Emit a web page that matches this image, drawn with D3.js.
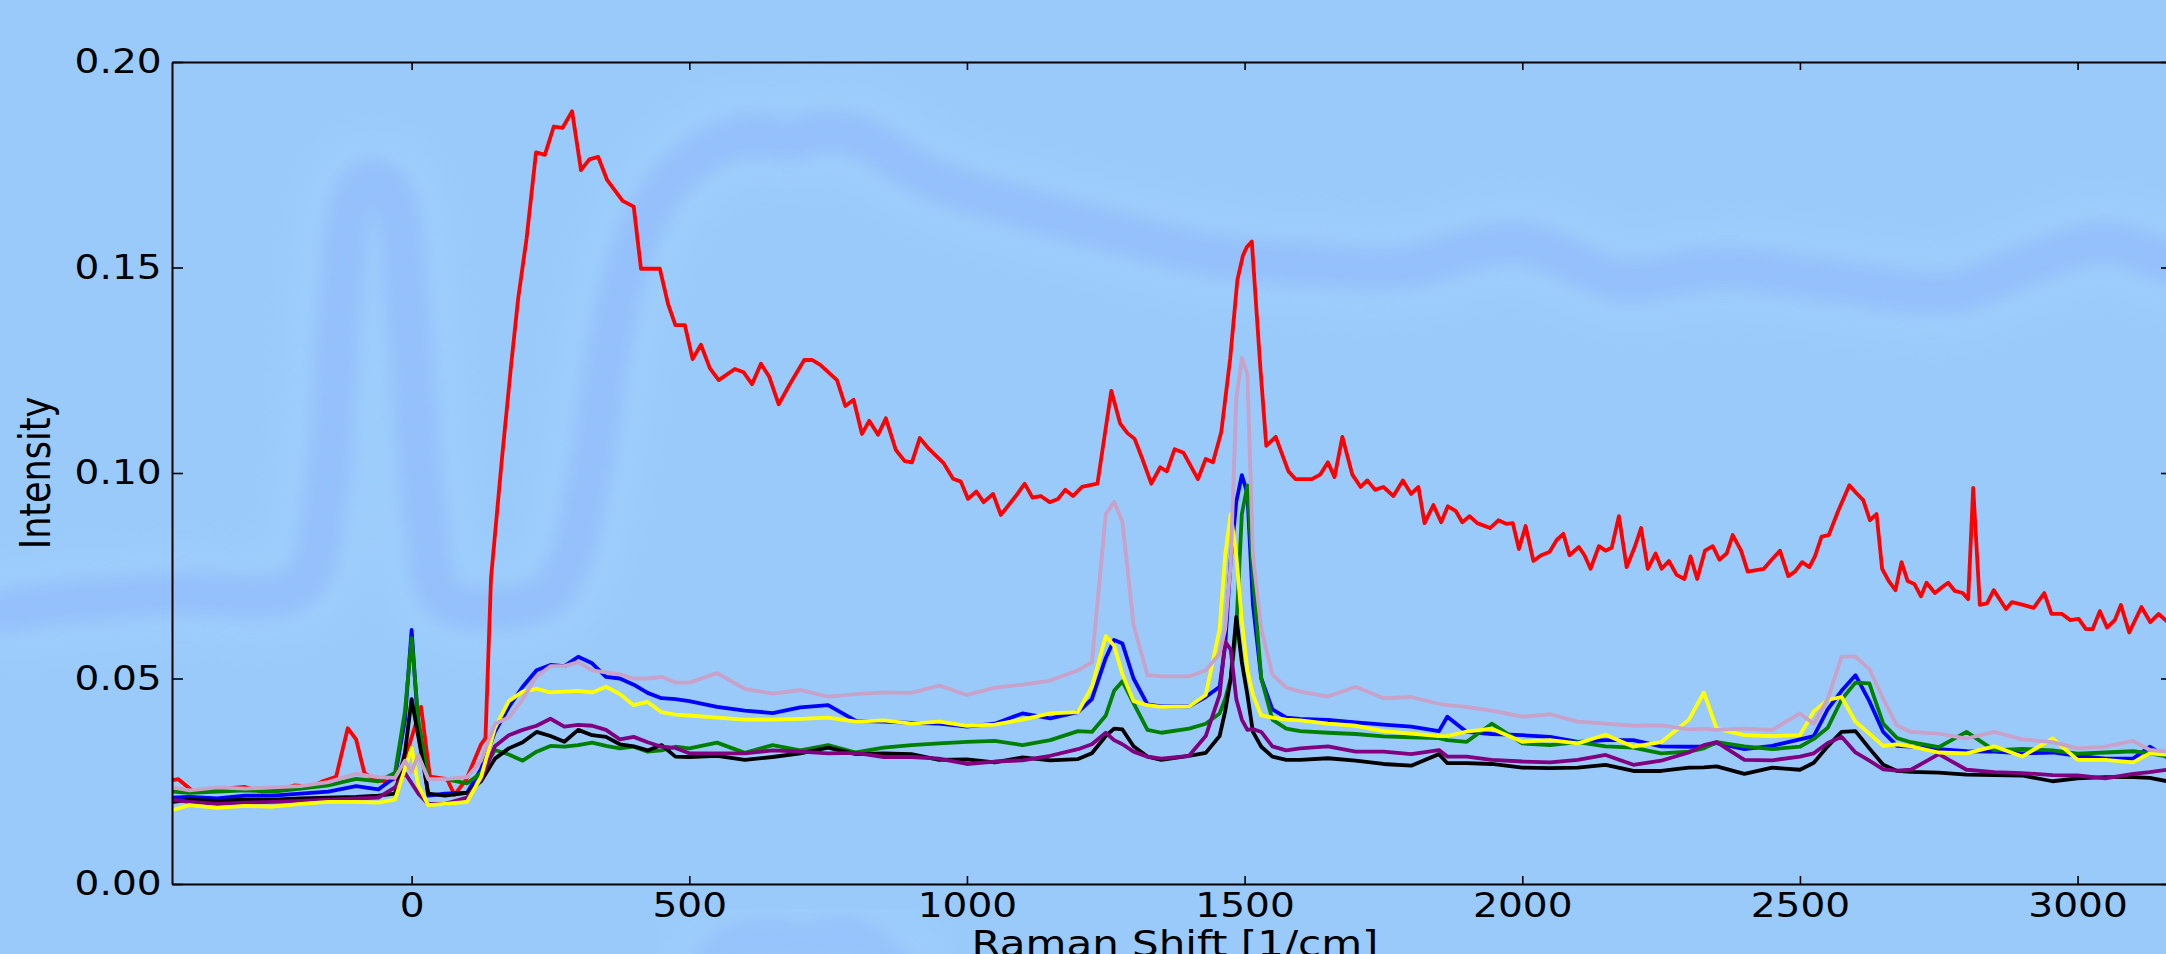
<!DOCTYPE html>
<html>
<head>
<meta charset="utf-8">
<script src="https://cdn.jsdelivr.net/npm/d3@7"></script>
<style>
  body { margin: 0; background: #9acafa; }
  svg { display: block; }
</style>
</head>
<body>
<svg id="chart" width="2166" height="954"></svg>
<script>
// shared wavenumber grid for the six low spectra
const waveX = [-430, -400, -350, -300, -250, -200, -150, -100, -60, -30,
  -12, 0, 12, 30, 60, 100, 125, 150, 175, 200,
  225, 250, 275, 300, 325, 350, 375, 400, 425, 450,
  475, 500, 550, 600, 650, 700, 750, 800, 850, 900,
  950, 1000, 1050, 1100, 1150, 1200, 1225, 1250, 1265, 1280,
  1300, 1325, 1350, 1400, 1430, 1455, 1465, 1475, 1485, 1495,
  1505, 1515, 1530, 1550, 1575, 1600, 1650, 1700, 1750, 1800,
  1850, 1865, 1900, 1945, 2000, 2050, 2100, 2150, 2200, 2250,
  2300, 2327, 2350, 2400, 2450, 2500, 2525, 2550, 2575, 2600,
  2625, 2650, 2675, 2700, 2750, 2800, 2850, 2900, 2955, 3000,
  3050, 3100, 3130, 3165];

const blueY = [0.0210, 0.0212, 0.0208, 0.0215, 0.0215, 0.0220, 0.0225, 0.0238, 0.0230, 0.0260,
  0.0400, 0.0618, 0.0380, 0.0215, 0.0220, 0.0222, 0.0280, 0.0370, 0.0430, 0.0480,
  0.0520, 0.0533, 0.0530, 0.0553, 0.0537, 0.0504, 0.0500, 0.0485, 0.0465, 0.0452,
  0.0450, 0.0445, 0.0431, 0.0422, 0.0416, 0.0430, 0.0435, 0.0397, 0.0395, 0.0392,
  0.0390, 0.0383, 0.0390, 0.0415, 0.0403, 0.0418, 0.0450, 0.0550, 0.0594, 0.0585,
  0.0500, 0.0437, 0.0432, 0.0432, 0.0455, 0.0480, 0.0580, 0.0790, 0.0930, 0.0995,
  0.0950, 0.0680, 0.0500, 0.0425, 0.0405, 0.0402, 0.0399, 0.0393, 0.0388, 0.0383,
  0.0372, 0.0407, 0.0370, 0.0365, 0.0362, 0.0358, 0.0346, 0.0350, 0.0350, 0.0335,
  0.0334, 0.0335, 0.0343, 0.0328, 0.0336, 0.0352, 0.0360, 0.0425, 0.0470, 0.0508,
  0.0445, 0.0370, 0.0336, 0.0334, 0.0328, 0.0323, 0.0322, 0.0318, 0.0320, 0.0312,
  0.0305, 0.0305, 0.0334, 0.0305];

const greenY = [0.0225, 0.0222, 0.0225, 0.0228, 0.0225, 0.0232, 0.0240, 0.0256, 0.0250, 0.0270,
  0.0420, 0.0598, 0.0400, 0.0255, 0.0255, 0.0245, 0.0270, 0.0326, 0.0315, 0.0300,
  0.0322, 0.0336, 0.0334, 0.0338, 0.0344, 0.0336, 0.0330, 0.0334, 0.0322, 0.0325,
  0.0334, 0.0330, 0.0344, 0.0319, 0.0338, 0.0325, 0.0338, 0.0320, 0.0332, 0.0338,
  0.0342, 0.0346, 0.0348, 0.0338, 0.0350, 0.0372, 0.0370, 0.0410, 0.0470, 0.0493,
  0.0440, 0.0375, 0.0368, 0.0378, 0.0390, 0.0415, 0.0450, 0.0500, 0.0620, 0.0900,
  0.0970, 0.0750, 0.0500, 0.0400, 0.0378, 0.0372, 0.0368, 0.0365, 0.0359, 0.0357,
  0.0355, 0.0350, 0.0346, 0.0390, 0.0342, 0.0338, 0.0345, 0.0335, 0.0332, 0.0318,
  0.0322, 0.0330, 0.0345, 0.0335, 0.0328, 0.0334, 0.0353, 0.0380, 0.0449, 0.0490,
  0.0488, 0.0390, 0.0355, 0.0345, 0.0333, 0.0370, 0.0325, 0.0329, 0.0325, 0.0317,
  0.0320, 0.0323, 0.0318, 0.0309];

const blackY = [0.0200, 0.0205, 0.0202, 0.0205, 0.0205, 0.0208, 0.0210, 0.0212, 0.0215, 0.0220,
  0.0320, 0.0450, 0.0360, 0.0220, 0.0215, 0.0222, 0.0250, 0.0305, 0.0330, 0.0345,
  0.0370, 0.0360, 0.0346, 0.0375, 0.0362, 0.0358, 0.0340, 0.0335, 0.0325, 0.0338,
  0.0310, 0.0309, 0.0312, 0.0302, 0.0309, 0.0318, 0.0332, 0.0316, 0.0318, 0.0316,
  0.0302, 0.0303, 0.0296, 0.0308, 0.0301, 0.0304, 0.0318, 0.0360, 0.0378, 0.0376,
  0.0335, 0.0310, 0.0302, 0.0312, 0.0319, 0.0360, 0.0420, 0.0500, 0.0650, 0.0540,
  0.0460, 0.0370, 0.0334, 0.0310, 0.0302, 0.0302, 0.0306, 0.0300, 0.0292, 0.0288,
  0.0316, 0.0294, 0.0294, 0.0292, 0.0283, 0.0282, 0.0283, 0.0290, 0.0275, 0.0275,
  0.0283, 0.0284, 0.0286, 0.0268, 0.0283, 0.0278, 0.0295, 0.0335, 0.0370, 0.0372,
  0.0330, 0.0290, 0.0275, 0.0273, 0.0271, 0.0266, 0.0265, 0.0264, 0.0250, 0.0257,
  0.0260, 0.0260, 0.0258, 0.0249];

const purpleY = [0.0205, 0.0200, 0.0195, 0.0198, 0.0200, 0.0202, 0.0205, 0.0208, 0.0210, 0.0235,
  0.0270, 0.0245, 0.0220, 0.0195, 0.0195, 0.0210, 0.0255, 0.0335, 0.0362, 0.0375,
  0.0385, 0.0402, 0.0383, 0.0387, 0.0385, 0.0375, 0.0352, 0.0358, 0.0345, 0.0334,
  0.0331, 0.0318, 0.0318, 0.0318, 0.0325, 0.0322, 0.0318, 0.0319, 0.0309, 0.0309,
  0.0305, 0.0292, 0.0298, 0.0301, 0.0312, 0.0328, 0.0340, 0.0368, 0.0350, 0.0340,
  0.0322, 0.0310, 0.0305, 0.0312, 0.0360, 0.0460, 0.0590, 0.0570, 0.0450, 0.0400,
  0.0375, 0.0377, 0.0370, 0.0335, 0.0325, 0.0330, 0.0335, 0.0322, 0.0322, 0.0316,
  0.0326, 0.0310, 0.0310, 0.0302, 0.0298, 0.0296, 0.0302, 0.0314, 0.0290, 0.0300,
  0.0320, 0.0338, 0.0345, 0.0302, 0.0301, 0.0310, 0.0318, 0.0343, 0.0358, 0.0320,
  0.0300, 0.0279, 0.0276, 0.0278, 0.0316, 0.0278, 0.0272, 0.0270, 0.0265, 0.0264,
  0.0257, 0.0268, 0.0272, 0.0279];

const yellowY = [0.0180, 0.0192, 0.0185, 0.0190, 0.0188, 0.0195, 0.0200, 0.0200, 0.0198, 0.0205,
  0.0280, 0.0331, 0.0240, 0.0192, 0.0195, 0.0200, 0.0260, 0.0380, 0.0445, 0.0468,
  0.0475, 0.0466, 0.0468, 0.0470, 0.0466, 0.0480, 0.0462, 0.0435, 0.0443, 0.0418,
  0.0412, 0.0410, 0.0405, 0.0400, 0.0400, 0.0402, 0.0405, 0.0395, 0.0398, 0.0390,
  0.0395, 0.0385, 0.0388, 0.0400, 0.0415, 0.0418, 0.0480, 0.0603, 0.0580, 0.0510,
  0.0445, 0.0435, 0.0431, 0.0432, 0.0460, 0.0620, 0.0800, 0.0900, 0.0800, 0.0640,
  0.0520, 0.0460, 0.0410, 0.0405, 0.0400, 0.0398, 0.0390, 0.0385, 0.0372, 0.0366,
  0.0360, 0.0360, 0.0371, 0.0378, 0.0346, 0.0350, 0.0342, 0.0363, 0.0334, 0.0345,
  0.0400, 0.0466, 0.0378, 0.0362, 0.0360, 0.0362, 0.0420, 0.0448, 0.0455, 0.0395,
  0.0366, 0.0336, 0.0340, 0.0335, 0.0320, 0.0318, 0.0335, 0.0310, 0.0354, 0.0302,
  0.0302, 0.0296, 0.0318, 0.0314];

const pinkY = [0.0235, 0.0228, 0.0235, 0.0232, 0.0235, 0.0238, 0.0248, 0.0268, 0.0260, 0.0258,
  0.0300, 0.0273, 0.0314, 0.0255, 0.0255, 0.0260, 0.0300, 0.0390, 0.0405, 0.0450,
  0.0505, 0.0530, 0.0530, 0.0540, 0.0520, 0.0515, 0.0510, 0.0500, 0.0500, 0.0504,
  0.0490, 0.0490, 0.0513, 0.0475, 0.0463, 0.0472, 0.0456, 0.0462, 0.0466, 0.0465,
  0.0483, 0.0460, 0.0478, 0.0485, 0.0495, 0.0520, 0.0540, 0.0900, 0.0930, 0.0880,
  0.0630, 0.0508, 0.0505, 0.0505, 0.0520, 0.0560, 0.0620, 0.0780, 0.1180, 0.1280,
  0.1240, 0.0800, 0.0620, 0.0510, 0.0478, 0.0468, 0.0456, 0.0480, 0.0452, 0.0455,
  0.0438, 0.0435, 0.0431, 0.0422, 0.0407, 0.0413, 0.0395, 0.0390, 0.0385, 0.0386,
  0.0376, 0.0378, 0.0375, 0.0378, 0.0375, 0.0415, 0.0390, 0.0450, 0.0553, 0.0553,
  0.0523, 0.0450, 0.0385, 0.0370, 0.0366, 0.0354, 0.0370, 0.0352, 0.0345, 0.0330,
  0.0334, 0.0348, 0.0326, 0.0322];

// the strong red spectrum has its own sampling
const redX = [-430, -420, -395, -370, -340, -300, -270, -240, -210, -180, -160, -136, -115, -100, -85, -64, -44, -25, -3, 17,
  33, 64, 77, 98, 125, 133, 143, 163, 179, 192, 207, 224, 240, 256, 272, 289, 305, 320, 336, 352,
  380, 400, 413, 447, 462, 475, 492, 506, 521, 537, 553, 582, 598, 613, 629, 644, 661, 681, 707, 721,
  736, 766, 781, 796, 811, 824, 840, 854, 872, 888, 901, 915, 932, 958, 975, 989, 1002, 1017, 1030, 1047,
  1061, 1088, 1104, 1118, 1133, 1149, 1164, 1177, 1191, 1207, 1235, 1260, 1276, 1289, 1302, 1316, 1332, 1348, 1360, 1374,
  1390, 1416, 1430, 1443, 1458, 1474, 1487, 1497, 1504, 1513, 1528, 1539, 1556, 1579, 1592, 1607, 1621, 1636, 1650, 1662,
  1676, 1694, 1709, 1721, 1735, 1750, 1768, 1785, 1800, 1813, 1824, 1840, 1854, 1866, 1880, 1892, 1905, 1919, 1942, 1957,
  1972, 1983, 1994, 2006, 2020, 2034, 2049, 2062, 2074, 2085, 2102, 2112, 2123, 2138, 2150, 2161, 2174, 2188, 2202, 2214,
  2226, 2240, 2251, 2264, 2278, 2292, 2303, 2315, 2329, 2343, 2355, 2368, 2379, 2394, 2406, 2435, 2449, 2464, 2479, 2491,
  2504, 2517, 2527, 2539, 2552, 2569, 2589, 2601, 2614, 2626, 2638, 2648, 2660, 2672, 2683, 2694, 2706, 2718, 2728, 2743,
  2757, 2767, 2779, 2793, 2803, 2812, 2824, 2837, 2849, 2871, 2882, 2902, 2921, 2940, 2953, 2972, 2987, 3002, 3015, 3027,
  3040, 3053, 3067, 3078, 3093, 3115, 3131, 3146, 3165];

const redY = [0.0253, 0.0255, 0.0227, 0.0225, 0.0232, 0.0236, 0.0225, 0.0228, 0.0240, 0.0236, 0.0250, 0.0261, 0.0379, 0.0352, 0.0270, 0.0253, 0.0249, 0.0260, 0.0343, 0.0431,
  0.0261, 0.0255, 0.0217, 0.0253, 0.0340, 0.0355, 0.0745, 0.1040, 0.1260, 0.1426, 0.1570, 0.1780, 0.1774, 0.1843, 0.1840, 0.1880, 0.1737, 0.1763, 0.1769, 0.1713,
  0.1662, 0.1648, 0.1497, 0.1497, 0.1410, 0.1360, 0.1360, 0.1277, 0.1312, 0.1255, 0.1226, 0.1253, 0.1245, 0.1216, 0.1266, 0.1234, 0.1167, 0.1216, 0.1275, 0.1275,
  0.1263, 0.1226, 0.1163, 0.1178, 0.1095, 0.1127, 0.1093, 0.1133, 0.1056, 0.1029, 0.1026, 0.1085, 0.1058, 0.1024, 0.0986, 0.0979, 0.0937, 0.0955, 0.0929, 0.0949,
  0.0898, 0.0944, 0.0974, 0.0940, 0.0944, 0.0929, 0.0937, 0.0959, 0.0944, 0.0966, 0.0974, 0.1200, 0.1120, 0.1097, 0.1083, 0.1034, 0.0974, 0.1014, 0.1004, 0.1058,
  0.1049, 0.0985, 0.1034, 0.1026, 0.1100, 0.1278, 0.1470, 0.1529, 0.1550, 0.1563, 0.1263, 0.1066, 0.1088, 0.1004, 0.0985, 0.0985, 0.0985, 0.0996, 0.1026, 0.0990,
  0.1088, 0.0996, 0.0966, 0.0982, 0.0959, 0.0966, 0.0944, 0.0982, 0.0949, 0.0966, 0.0878, 0.0922, 0.0880, 0.0919, 0.0908, 0.0880, 0.0895, 0.0878, 0.0866, 0.0885,
  0.0876, 0.0878, 0.0815, 0.0871, 0.0786, 0.0800, 0.0808, 0.0837, 0.0852, 0.0800, 0.0820, 0.0800, 0.0767, 0.0822, 0.0811, 0.0818, 0.0895, 0.0771, 0.0818, 0.0866,
  0.0767, 0.0804, 0.0767, 0.0786, 0.0752, 0.0742, 0.0797, 0.0742, 0.0811, 0.0822, 0.0789, 0.0804, 0.0849, 0.0811, 0.0760, 0.0767, 0.0789, 0.0811, 0.0749, 0.0760,
  0.0783, 0.0771, 0.0797, 0.0845, 0.0849, 0.0908, 0.0970, 0.0952, 0.0934, 0.0885, 0.0900, 0.0767, 0.0737, 0.0715, 0.0783, 0.0737, 0.0730, 0.0700, 0.0733, 0.0708,
  0.0723, 0.0733, 0.0713, 0.0708, 0.0693, 0.0964, 0.0679, 0.0683, 0.0715, 0.0669, 0.0686, 0.0679, 0.0672, 0.0708, 0.0657, 0.0657, 0.0642, 0.0645, 0.0620, 0.0620,
  0.0664, 0.0624, 0.0642, 0.0679, 0.0612, 0.0674, 0.0637, 0.0657, 0.0634];

// faint smeared trace in the background (extends past the axes)
const ghostX = [-741, -633, -435, -201, -156, -129, -102, -69, -35, -6, 25, 61, 232, 277, 322, 361, 412, 476, 568, 628,
  682, 736, 799, 937, 1074, 1258, 1441, 1625, 1780, 1994, 2178, 2362, 2545, 2776, 2913, 3051, 3159];
const ghostY = [0.0662, 0.0684, 0.0706, 0.0725, 0.0934, 0.1421, 0.1676, 0.1715, 0.1676, 0.1372, 0.0886, 0.0691, 0.0691, 0.0764, 0.1007, 0.1348, 0.1591, 0.1725, 0.1810, 0.1822,
  0.1810, 0.1830, 0.1822, 0.1715, 0.1655, 0.1589, 0.1530, 0.1506, 0.1499, 0.1560, 0.1470, 0.1499, 0.1470, 0.1440, 0.1509, 0.1560, 0.1513];
const ghostLowX = [521, 565, 612, 657, 704, 777, 822, 898];
const ghostLowY = [-0.0246, -0.0158, -0.0136, -0.0131, -0.0146, -0.0124, -0.0148, -0.0246];

const xTicks = [0, 500, 1000, 1500, 2000, 2500, 3000];
const yTicks = [0, 0.05, 0.10, 0.15, 0.20];

const series = [
  { color: '#ff0000', xs: redX, ys: redY },
  { color: '#0000ff', xs: waveX, ys: blueY },
  { color: '#008000', xs: waveX, ys: greenY },
  { color: '#000000', xs: waveX, ys: blackY },
  { color: '#800080', xs: waveX, ys: purpleY },
  { color: '#ffff00', xs: waveX, ys: yellowY },
  { color: '#c8a2c8', xs: waveX, ys: pinkY }
];

const svg = d3.select('#chart');
const pLeft = 172, pRight = 2172, pTop = 62, pBottom = 884;

const x = d3.scaleLinear().domain([-431.5, 3170]).range([pLeft, pRight]);
const y = d3.scaleLinear().domain([0, 0.2]).range([pBottom, pTop]);

svg.append('rect').attr('width', 2166).attr('height', 954).attr('fill', '#9acafa');

const defs = svg.append('defs');
defs.append('filter').attr('id', 'blurWide').attr('x', '-20%').attr('y', '-50%').attr('width', '140%').attr('height', '200%')
  .append('feGaussianBlur').attr('stdDeviation', 16);
defs.append('filter').attr('id', 'blurSoft').attr('x', '-20%').attr('y', '-50%').attr('width', '140%').attr('height', '200%')
  .append('feGaussianBlur').attr('stdDeviation', 8);
defs.append('clipPath').attr('id', 'plotClip')
  .append('rect').attr('x', pLeft).attr('y', pTop).attr('width', pRight - pLeft).attr('height', pBottom - pTop);

const pair = (xs, ys) => xs.map((d, i) => [d, ys[i]]);

const smooth = d3.line()
  .x(d => x(d[0]))
  .y(d => y(d[1]))
  .curve(d3.curveCatmullRom);

// background smear: light halo first, then the darker band
[pair(ghostX, ghostY), pair(ghostLowX, ghostLowY)].forEach((pts, i) => {
  svg.append('path')
    .attr('d', smooth(pts))
    .attr('fill', 'none')
    .attr('stroke', '#a2d1fd')
    .attr('stroke-width', 100)
    .attr('stroke-linejoin', 'round')
    .attr('stroke-linecap', 'round')
    .attr('opacity', 0.45)
    .attr('filter', 'url(#blurWide)');
  svg.append('path')
    .attr('d', smooth(pts))
    .attr('fill', 'none')
    .attr('stroke', '#93bdfb')
    .attr('stroke-width', 42)
    .attr('stroke-linejoin', 'round')
    .attr('stroke-linecap', 'round')
    .attr('opacity', i === 0 ? 0.8 : 0.6)
    .attr('filter', 'url(#blurSoft)');
});

const line = d3.line()
  .x(d => x(d[0]))
  .y(d => y(d[1]));

const plot = svg.append('g').attr('clip-path', 'url(#plotClip)');

plot.selectAll('path.spec')
  .data(series)
  .enter()
  .append('path')
  .attr('class', 'spec')
  .attr('d', s => line(pair(s.xs, s.ys)))
  .attr('fill', 'none')
  .attr('stroke', s => s.color)
  .attr('stroke-width', 3.8)
  .attr('stroke-linejoin', 'round');

// axes: ticks point inward, classic matplotlib look
const styleAxis = g => {
  g.attr('font-family', '"DejaVu Sans"').attr('font-size', 34);
  g.select('.domain').attr('stroke', '#000').attr('stroke-width', 2);
  g.selectAll('.tick line').attr('stroke', '#000').attr('stroke-width', 1.6);
  g.selectAll('.tick text').attr('fill', '#000').attr('transform', 'scale(1.15,1)');
};

svg.append('g')
  .attr('transform', `translate(0,${pBottom})`)
  .call(d3.axisBottom(x).tickValues(xTicks).tickSizeInner(-8).tickSizeOuter(0).tickPadding(9).tickFormat(d3.format('d')))
  .call(styleAxis);

svg.append('g')
  .attr('transform', `translate(0,${pTop})`)
  .call(d3.axisTop(x).tickValues(xTicks).tickSizeInner(-8).tickSizeOuter(0).tickFormat(''))
  .call(styleAxis);

svg.append('g')
  .attr('transform', `translate(${pLeft},0)`)
  .call(d3.axisLeft(y).tickValues(yTicks).tickSizeInner(-11).tickSizeOuter(0).tickPadding(9).tickFormat(d3.format('.2f')))
  .call(styleAxis);

svg.append('g')
  .attr('transform', `translate(${pRight},0)`)
  .call(d3.axisRight(y).tickValues(yTicks).tickSizeInner(-11).tickSizeOuter(0).tickFormat(''))
  .call(styleAxis);

// x label sits at the very bottom edge, as in the source image
svg.append('text')
  .attr('transform', `translate(${(pLeft + pRight) / 2 + 3},956) scale(1.2,1)`)
  .attr('text-anchor', 'middle')
  .attr('font-family', '"DejaVu Sans"')
  .attr('font-size', 35)
  .text('Raman Shift [1/cm]');

svg.append('text')
  .attr('transform', `translate(50,${(pTop + pBottom) / 2}) scale(1.2,1) rotate(-90)`)
  .attr('text-anchor', 'middle')
  .attr('font-family', '"DejaVu Sans"')
  .attr('font-size', 35)
  .text('Intensity');
</script>
</body>
</html>
